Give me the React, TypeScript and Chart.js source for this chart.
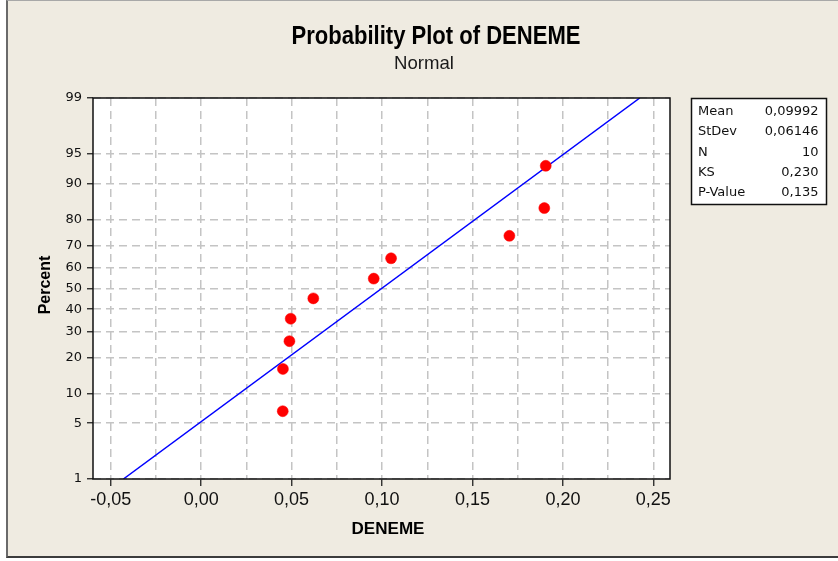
import React, { useEffect, useRef } from "react";
import { Chart, registerables } from "chart.js";

Chart.register(...registerables);

// ---- data ----
const xValues = [0.0451, 0.0452, 0.0488, 0.0495, 0.062, 0.0954, 0.105, 0.1704, 0.1897, 0.1905];
const percentValues = [6.7, 16.3, 26.0, 35.6, 45.2, 54.8, 64.4, 74.0, 83.7, 93.3];
const fitLineX = [-0.043, 0.2425];
const fitLinePercent = [1, 99];
const yTickPercents = [1, 5, 10, 20, 30, 40, 50, 60, 70, 80, 90, 95, 99];
const xGridValues = [-0.05, -0.025, 0, 0.025, 0.05, 0.075, 0.1, 0.125, 0.15, 0.175, 0.2, 0.225, 0.25];
const xLabelValues = [-0.05, 0, 0.05, 0.1, 0.15, 0.2, 0.25];
const statLabels = ["Mean", "StDev", "N", "KS", "P-Value"];
const statValues = ["0,09992", "0,06146", "10", "0,230", "0,135"];
const titleText = "Probability Plot of DENEME";
const subtitleText = "Normal";
const xTitleText = "DENEME";
const yTitleText = "Percent";

// inverse standard normal CDF (probability axis transform)
function normInv(p: number): number {
  const a = [-3.969683028665376e1, 2.209460984245205e2, -2.759285104469687e2, 1.38357751867269e2, -3.066479806614716e1, 2.506628277459239];
  const b = [-5.447609879822406e1, 1.615858368580409e2, -1.556989798598866e2, 6.680131188771972e1, -1.328068155288572e1];
  const c = [-7.784894002430293e-3, -3.223964580411365e-1, -2.400758277161838, -2.549732539343734, 4.374664141464968, 2.938163982698783];
  const d = [7.784695709041462e-3, 3.224671290700398e-1, 2.445134137142996, 3.754408661907416];
  const plow = 0.02425;
  const phigh = 1 - plow;
  let q: number, r: number;
  if (p < plow) {
    q = Math.sqrt(-2 * Math.log(p));
    return (((((c[0] * q + c[1]) * q + c[2]) * q + c[3]) * q + c[4]) * q + c[5]) / ((((d[0] * q + d[1]) * q + d[2]) * q + d[3]) * q + 1);
  }
  if (p <= phigh) {
    q = p - 0.5;
    r = q * q;
    return ((((((a[0] * r + a[1]) * r + a[2]) * r + a[3]) * r + a[4]) * r + a[5]) * q) / (((((b[0] * r + b[1]) * r + b[2]) * r + b[3]) * r + b[4]) * r + 1);
  }
  q = Math.sqrt(-2 * Math.log(1 - p));
  return -(((((c[0] * q + c[1]) * q + c[2]) * q + c[3]) * q + c[4]) * q + c[5]) / ((((d[0] * q + d[1]) * q + d[2]) * q + d[3]) * q + 1);
}
const zOf = (pct: number) => normInv(pct / 100);

const isLabelX = (v: number) => xLabelValues.some((l) => Math.abs(l - v) < 1e-9);
const fmtX = (v: number) => {
  const s = Math.abs(v).toFixed(2).replace(".", ",");
  return v < -1e-9 ? "-" + s : s;
};

function drawFitted(ctx: CanvasRenderingContext2D, text: string, cx: number, baseline: number, font: string, targetW: number) {
  ctx.save();
  ctx.font = font;
  const w = ctx.measureText(text).width;
  const sx = targetW / w;
  ctx.translate(cx, baseline);
  ctx.scale(sx, 1);
  ctx.textAlign = "center";
  ctx.textBaseline = "alphabetic";
  ctx.fillText(text, 0, 0);
  ctx.restore();
}

const decorPlugin = {
  id: "decor",
  beforeDraw(chart: any) {
    const { ctx, chartArea: a } = chart;
    ctx.save();
    ctx.fillStyle = "#ffffff";
    ctx.fillRect(a.left, a.top, a.right - a.left, a.bottom - a.top);
    ctx.restore();
  },
  afterDraw(chart: any) {
    const { ctx, chartArea: a } = chart;
    ctx.save();
    // plot frame
    ctx.strokeStyle = "#111111";
    ctx.lineWidth = 1.5;
    ctx.strokeRect(a.left, a.top, a.right - a.left, a.bottom - a.top);

    ctx.fillStyle = "#000000";
    drawFitted(ctx, titleText, 436, 43.5, 'bold 26px "Liberation Sans", Arial, sans-serif', 289);
    ctx.fillStyle = "#1a1a1a";
    drawFitted(ctx, subtitleText, 424, 68.5, '19px "Liberation Sans", Arial, sans-serif', 60);
    ctx.fillStyle = "#000000";
    drawFitted(ctx, xTitleText, 388, 533.5, 'bold 17px "Liberation Sans", Arial, sans-serif', 73);

    // y title
    ctx.save();
    ctx.translate(50, 285);
    ctx.rotate(-Math.PI / 2);
    ctx.font = 'bold 16px "Liberation Sans", Arial, sans-serif';
    ctx.textAlign = "center";
    ctx.textBaseline = "alphabetic";
    ctx.fillText(yTitleText, 0, 0);
    ctx.restore();

    // stats box
    const bx = 691.5, by = 98.5, bw = 135, bh = 106;
    ctx.fillStyle = "#ffffff";
    ctx.fillRect(bx, by, bw, bh);
    ctx.strokeStyle = "#111111";
    ctx.lineWidth = 1.5;
    ctx.strokeRect(bx, by, bw, bh);
    ctx.fillStyle = "#111111";
    ctx.font = '13px "DejaVu Sans", Verdana, sans-serif';
    ctx.textBaseline = "middle";
    statLabels.forEach((lab, i) => {
      const y = 111.5 + i * 20.4;
      ctx.textAlign = "left";
      ctx.fillText(lab, 698, y);
      ctx.textAlign = "right";
      ctx.fillText(statValues[i], 818.5, y);
    });
    ctx.restore();
  },
};

export default function App() {
  const canvasRef = useRef<HTMLCanvasElement | null>(null);

  useEffect(() => {
    const canvas = canvasRef.current;
    if (!canvas) return;
    const gridColor = "#c4c4c4";
    const chart = new Chart(canvas, {
      type: "scatter",
      data: {
        datasets: [
          {
            label: "DENEME",
            data: xValues.map((x, i) => ({ x, y: zOf(percentValues[i]) })),
            backgroundColor: "#ff0000",
            borderColor: "#ff0000",
            pointRadius: 5.5,
            pointBorderWidth: 0.5,
            order: 1,
          },
          {
            label: "Fit",
            type: "line",
            data: fitLineX.map((x, i) => ({ x, y: zOf(fitLinePercent[i]) })),
            borderColor: "#0000ff",
            borderWidth: 1.5,
            pointRadius: 0,
            showLine: true,
            fill: false,
            order: 2,
          } as any,
        ],
      },
      options: {
        responsive: false,
        animation: false,
        events: [],
        layout: { padding: { left: 0, top: 98, right: 168, bottom: 0 } },
        plugins: {
          legend: { display: false },
          tooltip: { enabled: false },
          title: { display: false },
        },
        scales: {
          x: {
            type: "linear",
            min: -0.0598,
            max: 0.2592,
            afterBuildTicks: (s: any) => {
              s.ticks = xGridValues.map((v) => ({ value: v }));
            },
            afterFit: (s: any) => {
              s.height = 82;
            },
            grid: {
              color: gridColor,
              lineWidth: 1.5,
              tickLength: 7,
              tickWidth: 1.3,
              tickColor: (ctx: any) => (ctx.tick && isLabelX(ctx.tick.value) ? "#222222" : "rgba(0,0,0,0)"),
            },
            border: { display: false, dash: [8, 5] },
            ticks: {
              autoSkip: false,
              maxRotation: 0,
              padding: 3,
              color: "#111111",
              font: { family: '"Liberation Sans", Arial, sans-serif', size: 18 },
              callback: (_v: any, i: number) => (isLabelX(xGridValues[i]) ? fmtX(xGridValues[i]) : ""),
            },
          },
          y: {
            type: "linear",
            min: zOf(1),
            max: zOf(99),
            afterBuildTicks: (s: any) => {
              s.ticks = yTickPercents.map((p) => ({ value: zOf(p) }));
            },
            afterFit: (s: any) => {
              s.width = 93;
            },
            grid: {
              color: gridColor,
              lineWidth: 1.5,
              tickLength: 6,
              tickWidth: 1.3,
              tickColor: "#222222",
            },
            border: { display: false, dash: [8, 5] },
            ticks: {
              autoSkip: false,
              padding: 5,
              color: "#111111",
              font: { family: '"DejaVu Sans", Verdana, sans-serif', size: 13 },
              callback: (_v: any, i: number) => String(yTickPercents[i]),
            },
          },
        },
      } as any,
      plugins: [decorPlugin],
    });
    return () => chart.destroy();
  }, []);

  return (
    <div style={{ position: "absolute", left: 0, top: 0, width: 838, height: 561, background: "#ffffff", overflow: "hidden" }}>
      <div
        style={{
          position: "absolute",
          left: 6,
          top: 0,
          width: 840,
          height: 558,
          boxSizing: "border-box",
          background: "#efebe1",
          borderLeft: "2px solid #6a6a6a",
          borderTop: "1px solid #a8a8a8",
          borderBottom: "2px solid #3c3c3c",
        }}
      />
      <canvas ref={canvasRef} width={838} height={561} style={{ position: "absolute", left: 0, top: 0, width: 838, height: 561 }} />
    </div>
  );
}
